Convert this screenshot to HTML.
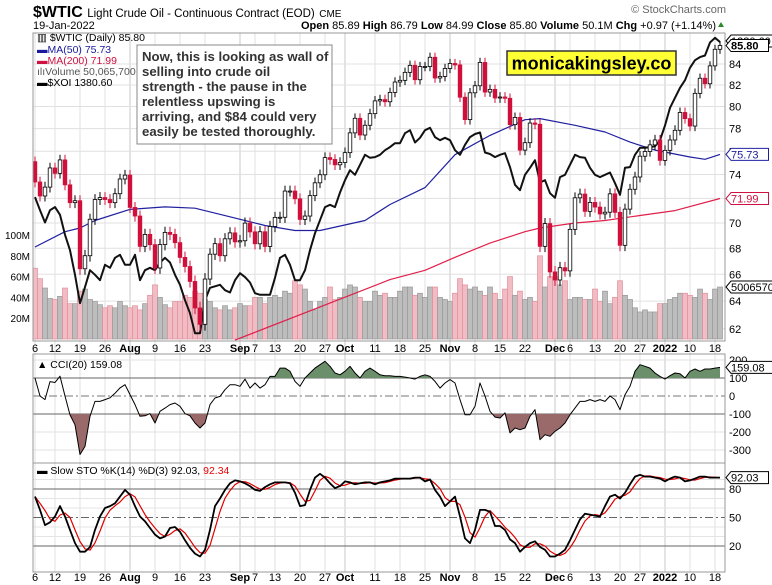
<!DOCTYPE html>
<html><head><meta charset="utf-8">
<style>
body{margin:0;background:#fff;}
svg{display:block;font-family:"Liberation Sans",sans-serif;}
</style></head>
<body>
<svg id="c" width="772" height="585" viewBox="0 0 772 585">
<text x="33" y="17" font-size="16" font-weight="bold">$WTIC <tspan font-size="11.5" font-weight="normal">Light Crude Oil - Continuous Contract (EOD)</tspan> <tspan font-size="10" font-weight="normal">CME</tspan></text>
<text x="33" y="29" font-size="11">19-Jan-2022</text>
<text x="716" y="29" font-size="11" text-anchor="end"><tspan font-weight="bold">Open</tspan> 85.89 <tspan font-weight="bold">High</tspan> 86.79 <tspan font-weight="bold">Low</tspan> 84.99 <tspan font-weight="bold">Close</tspan> 85.80 <tspan font-weight="bold">Volume</tspan> 50.1M <tspan font-weight="bold">Chg</tspan> +0.97 (+1.14%)</text>
<path d="M718 27 l3 -5 l3 5z" fill="#2a8a2a"/>
<text x="726" y="13" font-size="11" fill="#666" text-anchor="end">© StockCharts.com</text>
<g id="grid"></g>
<g id="vol"></g>
<g id="lines"></g>
<g id="candles"></g>
<g id="ind"></g>
<g id="frames"></g>
<g id="labels"></g>
<g font-size="10.5">
<text x="37" y="41">▥ $WTIC (Daily) 85.80</text>
<text x="37" y="53" fill="#1a1aa0">▬MA(50) 75.73</text>
<text x="37" y="64" fill="#d01040">▬MA(200) 71.99</text>
<text x="37" y="75" fill="#555">ılıVolume 50,065,700</text>
<text x="37" y="86">▬$XOI 1380.60</text>
</g>
<g>
<rect x="137" y="45" width="195" height="99" fill="#fff" stroke="#888" stroke-width="1"/>
<text font-size="13.2" font-weight="bold" fill="#333">
<tspan x="142" y="61">Now, this is looking as wall of</tspan>
<tspan x="142" y="76">selling into crude oil</tspan>
<tspan x="142" y="91">strength - the pause in the</tspan>
<tspan x="142" y="106">relentless upswing is</tspan>
<tspan x="142" y="121">arriving, and $84 could very</tspan>
<tspan x="142" y="136">easily be tested thoroughly.</tspan>
</text>
</g>
<g>
<rect x="507" y="51" width="169" height="24" fill="#ffff33" stroke="#333" stroke-width="1.5"/>
<text x="591.5" y="69.5" font-size="18" font-weight="bold" text-anchor="middle">monicakingsley.co</text>
</g>
<g font-size="10.5">
<text x="37" y="368">▲ CCI(20) 159.08</text>
<text x="37" y="474">▬ Slow STO %K(14) %D(3) 92.03, <tspan fill="#e00">92.34</tspan></text>
</g>
</svg>
<script>
const closes=[73.37,72.20,72.94,74.56,74.10,75.25,73.13,71.65,71.81,66.42,67.42,70.30,71.91,72.07,71.91,71.65,72.39,73.62,73.95,
71.26,70.56,68.15,69.09,68.28,66.48,68.29,69.25,69.09,68.44,67.29,66.59,65.46,63.50,62.32,65.64,67.54,68.36,67.42,68.74,69.21,68.50,
68.59,69.99,69.29,68.35,69.30,68.14,69.72,70.45,70.46,72.61,72.61,71.97,70.29,70.56,72.23,73.30,73.98,75.45,75.29,74.83,75.03,
75.88,77.62,78.93,77.43,78.30,79.35,80.52,80.64,80.44,81.31,82.28,82.44,83.20,83.87,82.50,83.76,83.76,84.65,82.66,82.81,83.57,
84.05,83.91,80.86,78.81,81.27,81.93,84.15,81.34,81.59,80.79,80.88,80.76,78.36,79.01,76.10,76.75,78.50,78.39,68.15,69.95,66.18,
65.57,66.50,66.26,69.49,72.05,72.36,70.94,71.67,71.29,70.73,70.87,72.38,70.86,68.23,71.12,72.76,73.79,75.57,75.98,76.56,76.99,75.21,
76.08,76.99,77.85,79.46,78.90,78.23,81.22,82.64,82.12,83.82,85.43,85.80];
const firstOpen=75.10;
const volumes=[68,58,49,39,38,41,49,34,34,46,48,38,36,33,30,32,30,36,32,
30,32,28,34,42,52,40,33,30,36,36,42,40,46,44,38,36,30,28,32,28,30,
34,32,32,40,40,34,40,42,40,46,44,56,52,48,36,28,36,40,50,38,40,
48,52,50,40,36,36,46,42,44,40,40,46,50,50,42,44,40,50,50,40,38,
36,44,58,52,48,50,46,42,50,44,38,48,60,42,46,38,40,36,80,50,60,
60,52,56,38,40,40,38,38,48,36,46,34,40,56,42,38,30,26,28,26,26,34,
34,38,40,44,44,42,40,48,44,38,48,50];
const xoi=[1179,1162,1146,1162,1166,1156,1130,1110,1078,1041,1062,1084,1078,1071,1091,1087,1100,1104,1091,1091,1104,1071,1084,1087,1084,1094,1100,1094,1078,1065,1045,1028,1002,1002,1045,1061,1063,1065,1058,1055,1071,1080,1075,1068,1054,1052,1052,1052,1074,1100,1104,1091,1071,1071,1084,1110,1132,1149,1166,1169,1166,1185,1201,1214,1208,1221,1234,1230,1231,1234,1240,1244,1249,1249,1262,1266,1250,1256,1266,1269,1257,1253,1256,1253,1240,1234,1247,1257,1261,1263,1237,1235,1231,1234,1236,1218,1195,1188,1208,1217,1227,1198,1201,1184,1178,1205,1208,1221,1234,1231,1230,1217,1208,1205,1208,1211,1197,1182,1217,1218,1234,1243,1243,1244,1245,1253,1272,1295,1308,1321,1331,1347,1357,1361,1363,1380,1386,1380.6];
const ma50Idx=[0,6,9,12,19,26,32,39,46,52,57,66,71,78,84,91,98,101,108,114,119,124,131,134,137];
const ma50Val=[68.1,69.3,69.6,70.2,71.1,71.3,71.2,70.5,69.8,69.4,69.4,70.2,71.5,72.9,75.7,77.4,78.8,78.9,78.3,77.7,76.8,76.1,75.5,75.3,75.73];
const ma200Idx=[40,71,78,84,91,98,101,108,114,121,128,137];
const ma200Val=[61.2,65.6,66.3,67.3,68.4,69.3,69.6,70.0,70.2,70.6,71.0,71.99];
const cci=[100,0,-20,80,75,110,0,-105,-160,-325,-280,-113,-30,-30,-20,-10,15,45,63,8,-48,-113,-110,-98,-150,-85,-67,-48,-39,-57,-98,-110,-150,-178,-150,-48,-11,-2,35,63,63,54,94,44,72,44,63,109,109,155,155,137,81,54,100,128,155,174,193,165,128,118,137,165,128,100,137,155,137,118,113,113,109,109,105,100,94,109,118,109,81,44,72,91,72,-20,-104,-104,-57,72,0,-85,-117,-122,-94,-205,-178,-187,-178,-113,-76,-243,-215,-224,-196,-178,-150,-104,-67,-30,-30,-20,-30,-20,-30,0,-20,-76,7,54,137,174,165,155,128,109,94,113,128,124,100,137,150,137,150,150,155,159.08];
const stoK=[72,58,42,45,51,62,51,37,23,14,14,19,37,51,60,62,65,72,79,74,62,51,46,39,32,28,30,39,40,35,26,18,12,9,16,37,62,70,79,86,89,88,86,83,79,78,82,85,87,87,87,86,76,62,63,79,92,96,92,86,81,83,88,87,85,86,87,87,85,87,88,89,91,91,91,91,92,92,88,90,79,72,62,67,72,51,28,23,37,58,58,56,41,41,37,27,23,14,19,23,25,19,16,9,9,12,16,26,37,48,54,53,52,51,62,72,74,70,76,85,93,95,93,93,92,91,88,91,93,92,88,89,91,93,93,92,92,92.03];
const tickIdx=[0,4,9,14,19,24,29,34,41,44,48,53,58,62,68,73,78,83,88,93,98,104,107,112,117,121,126,131,136];
const tickLbl=["6","12","19","26","Aug","9","16","23","Sep","7","13","20","27","Oct","11","18","25","Nov","8","15","22","Dec","6","13","20","27","2022","10","18"];
const majorLbl=["Aug","Sep","Oct","Nov","Dec","2022"];
const priceTicks=[62,64,66,68,70,72,74,76,78,80,82,84];
const volTicks=[20,40,60,80,100];
const cciTicks=[200,100,0,-100,-200,-300];
const stoTicks=[80,50,20];

const NS="http://www.w3.org/2000/svg";
const L=33,R=725,MT=33,MB=341,CT=354,CB=463,ST=463,SB=572;
const xS=i=>35+i*5;
const yP=p=>64+872*Math.log(84/p);
const yV=v=>339-v*1.04;
const yX=v=>(1435.2-v)/1.3;
const yC=c=>396-c*0.18;
const yS=s=>489-(s-80)*0.95;
function mk(tag,attrs,parent){const e=document.createElementNS(NS,tag);for(const k in attrs)e.setAttribute(k,attrs[k]);document.getElementById(parent).appendChild(e);return e;}

// clip paths
const defs=document.createElementNS(NS,"defs");document.getElementById("c").prepend(defs);
function clip(id,x,y,w,h){const cp=document.createElementNS(NS,"clipPath");cp.setAttribute("id",id);const r=document.createElementNS(NS,"rect");r.setAttribute("x",x);r.setAttribute("y",y);r.setAttribute("width",w);r.setAttribute("height",h);cp.appendChild(r);defs.appendChild(cp);}
clip("cm",L,MT,R-L,MB-MT);clip("cc",L,CT,R-L,CB-CT);
clip("ccUp",L,CT,R-L,yC(100)-CT);clip("ccDn",L,yC(-100),R-L,CB-yC(-100));

// grid
tickIdx.forEach((ti,k)=>{
  const g=mk("line",{x1:xS(ti),x2:xS(ti),y1:MT,y2:SB,stroke:majorLbl.includes(tickLbl[k])?"#c8c8c8":"#e0e0e0","stroke-width":1},"grid");
  
  
  [[MB+11,"date-label-mid"],[SB+9,"date-label-bottom"]].forEach(([yy,nm])=>{
    const t=mk("text",{x:xS(ti),y:yy,"font-size":11,"text-anchor":"middle","font-weight":majorLbl.includes(tickLbl[k])?"bold":"normal"},"labels");
    t.textContent=tickLbl[k];
    
    
  });
});
priceTicks.forEach(p=>{
  const g=mk("line",{x1:L,x2:R,y1:yP(p),y2:yP(p),stroke:"#e0e0e0"},"grid");
  
  
  const t=mk("text",{x:729,y:yP(p)+4,"font-size":11},"labels");t.textContent=p;
  
  
});
volTicks.forEach(v=>{
  const t=mk("text",{x:30,y:yV(v)+4,"font-size":10,"text-anchor":"end"},"labels");t.textContent=v+"M";
  
  
});
cciTicks.forEach(c=>{
  const t=mk("text",{x:729,y:yC(c)+4,"font-size":11},"labels");t.textContent=c;
  
  
  const g=mk("line",{x1:L,x2:R,y1:yC(c),y2:yC(c),stroke:Math.abs(c)===100?"#666":"#e0e0e0","stroke-dasharray":c===0?"8,3,2,3":"none"},"grid");
  if(c===0)g.setAttribute("stroke","#777");
  
  
});
stoTicks.forEach(s=>{
  const t=mk("text",{x:729,y:yS(s)+4,"font-size":11},"labels");t.textContent=s;
  
  
  const g=mk("line",{x1:L,x2:R,y1:yS(s),y2:yS(s),stroke:"#666","stroke-dasharray":s===50?"8,3,2,3":"none"},"grid");
  
  
});
[30,40,60,70,90].forEach(s=>{const g=mk("line",{x1:L,x2:R,y1:yS(s),y2:yS(s),stroke:"#e4e4e4"},"grid");
  
  });

// volume
volumes.forEach((v,i)=>{
  const down=i>0?closes[i]<closes[i-1]:closes[0]<firstOpen;
  const b=mk("rect",{x:xS(i)-2.5,y:yV(v),width:5,height:339-yV(v),fill:down?"#f2bcc4":"#bdbdbd",stroke:down?"#e0909c":"#999","stroke-width":0.7,"clip-path":"url(#cm)"},"vol");
  
  
});

function poly(xs,ys,stroke,w,parent,name,clipId){
  const d=xs.map((x,k)=>(k?"L":"M")+x.toFixed(1)+" "+ys[k].toFixed(1)).join("");
  const p=mk("path",{d:d,fill:"none",stroke:stroke,"stroke-width":w,"clip-path":"url(#"+clipId+")","stroke-linejoin":"round"},parent);
  
  
  return d;
}
poly(ma200Idx.map(xS),ma200Val.map(yP),"#e0204a",1.2,"lines","ma200-line","cm");
poly(ma50Idx.map(xS),ma50Val.map(yP),"#2020a0",1.2,"lines","ma50-line","cm");
poly(xoi.map((v,i)=>xS(i)),xoi.map(yX),"#111",2,"lines","xoi-line","cm");

// candles
closes.forEach((c,i)=>{
  const o=i?closes[i-1]:firstOpen;
  const hi=Math.max(o,c)+0.45,lo=Math.min(o,c)-0.45;
  const down=c<o;
  const w=mk("line",{x1:xS(i),x2:xS(i),y1:yP(hi),y2:yP(lo),stroke:down?"#d0103a":"#000","stroke-width":1,"clip-path":"url(#cm)"},"candles");
  
  
  const top=yP(Math.max(o,c)),bot=yP(Math.min(o,c));
  const b=mk("rect",{x:xS(i)-1.8,y:top,width:3.6,height:Math.max(1,bot-top),fill:down?"#d0103a":"#fff",stroke:down?"#d0103a":"#000","stroke-width":0.8,"clip-path":"url(#cm)"},"candles");
  
  
});

// CCI
const cx=cci.map((v,i)=>xS(i)),cy=cci.map(yC);
const cd=cx.map((x,k)=>(k?"L":"M")+x.toFixed(1)+" "+cy[k].toFixed(1)).join("");
const fu=mk("path",{d:cd+"L"+cx[cx.length-1]+" "+yC(100)+"L"+cx[0]+" "+yC(100)+"Z",fill:"#6a8f6a",stroke:"none","clip-path":"url(#ccUp)"},"ind");


const fd=mk("path",{d:cd+"L"+cx[cx.length-1]+" "+yC(-100)+"L"+cx[0]+" "+yC(-100)+"Z",fill:"#9a6a6a",stroke:"none","clip-path":"url(#ccDn)"},"ind");


poly(cx,cy,"#000",1,"ind","cci-line","cc");

// STO
const stoD=stoK.map((v,i)=>{const a=stoK.slice(Math.max(0,i-2),i+1);return a.reduce((s,x)=>s+x,0)/a.length;});
poly(stoD.map((v,i)=>xS(i)),stoD.map(yS),"#e00000",1.2,"ind","sto-d-line","cc2");
poly(stoK.map((v,i)=>xS(i)),stoK.map(yS),"#000",1.8,"ind","sto-k-line","cc2");
clip("cc2",L,ST,R-L,SB-ST);

// frames
[[MT,MB,"price-panel"],[CT,CB,"cci-panel"],[ST,SB,"sto-panel"]].forEach(([a,b,n])=>{
  const r=mk("rect",{x:L,y:a,width:R-L,height:b-a,fill:"none",stroke:"#999","stroke-width":1},"frames");
  
  
});

// value tags
function tag(y,txt,col,name){
  const w=txt.length*6.3+6;
  const p=mk("path",{d:`M726 ${y} l5 -6 h${w} v12 h-${w} z`,fill:"#fff",stroke:col,"stroke-width":1},"labels");
  
  
  const t=mk("text",{x:731,y:y+4,"font-size":11,fill:col==="#000"?"#000":col,"font-weight":name==="price-tag"?"bold":"normal"},"labels");
  t.textContent=txt;
  
  
}
tag(41,"1380.60","#000","xoi-tag");
tag(yP(closes[closes.length-1]),closes[closes.length-1].toFixed(2),"#000","price-tag");
tag(yP(75.73),"75.73","#2020a0","ma50-tag");
tag(yP(71.99),"71.99","#d01040","ma200-tag");
tag(yV(volumes[volumes.length-1]),"50065700","#000","volume-tag");
tag(yC(cci[cci.length-1]),"159.08","#000","cci-tag");
tag(yS(stoK[stoK.length-1]),"92.03","#000","sto-tag");
</script>
</body></html>
